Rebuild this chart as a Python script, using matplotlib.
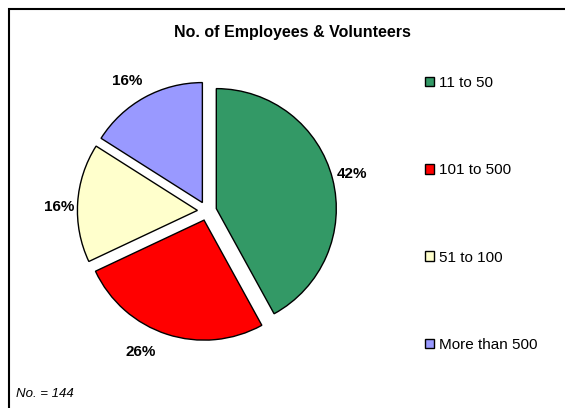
import numpy as np
import matplotlib.pyplot as plt
from matplotlib.patches import Rectangle

plt.rcParams['font.family'] = ['Liberation Sans', 'DejaVu Sans']

categories = ['11 to 50', '101 to 500', '51 to 100', 'More than 500']
shares = [42, 26, 16, 16]
colors = ['#339966', '#FF0000', '#FFFFCC', '#9999FF']

W, H = 565, 408
fig = plt.figure(figsize=(W / 100, H / 100), dpi=100)

# pie axes: 300x300 px box around the pie centre
cx, cy, half = 207, 211, 150
ax = fig.add_axes([(cx - half) / W, (H - cy - half) / H, 2 * half / W, 2 * half / H])

explode = 0.08
wedges, texts, autotexts = ax.pie(
    shares,
    colors=colors,
    startangle=90,
    counterclock=False,
    explode=[explode] * len(shares),
    autopct=lambda p: f'{p:.0f}%',
    pctdistance=1.18,
    wedgeprops=dict(edgecolor='black', linewidth=1.0),
    textprops=dict(fontsize=11, fontweight='bold', color='black'),
)

# nudge the percentage labels a little around the pie so they sit clear of the wedges
label_shift = [0, -7, 2, 3]
label_dist = [1.25, 1.30, 1.23, 1.27]
for w, t, shift, dist in zip(wedges, autotexts, label_shift, label_dist):
    ang = np.deg2rad((w.theta1 + w.theta2) / 2 + shift)
    t.set_position((dist * np.cos(ang), dist * np.sin(ang)))

ax.set_xlim(-1.25, 1.25)
ax.set_ylim(-1.25, 1.25)
ax.set_aspect('equal')
ax.axis('off')

fig.text(292 / W, 1 - 32 / H, 'No. of Employees & Volunteers',
         ha='center', va='center', fontsize=11.5, fontweight='bold')

fig.legend(wedges, categories, loc='upper left',
           bbox_to_anchor=(425 / W, 1 - 76 / H),
           frameon=False, fontsize=11,
           handlelength=0.6, handleheight=0.6, handletextpad=0.3,
           labelspacing=4.8, borderpad=0, borderaxespad=0)

fig.text(16 / W, 1 - 394 / H, 'No. = 144', ha='left', va='center',
         fontsize=9.5, style='italic')

# chart frame (runs off the right and bottom edges)
fig.add_artist(Rectangle((9 / W, -0.1), 1.2, 1.1 - 9 / H,
                         transform=fig.transFigure, fill=False,
                         edgecolor='black', linewidth=1.5))

fig.savefig('out.png', dpi=100)
